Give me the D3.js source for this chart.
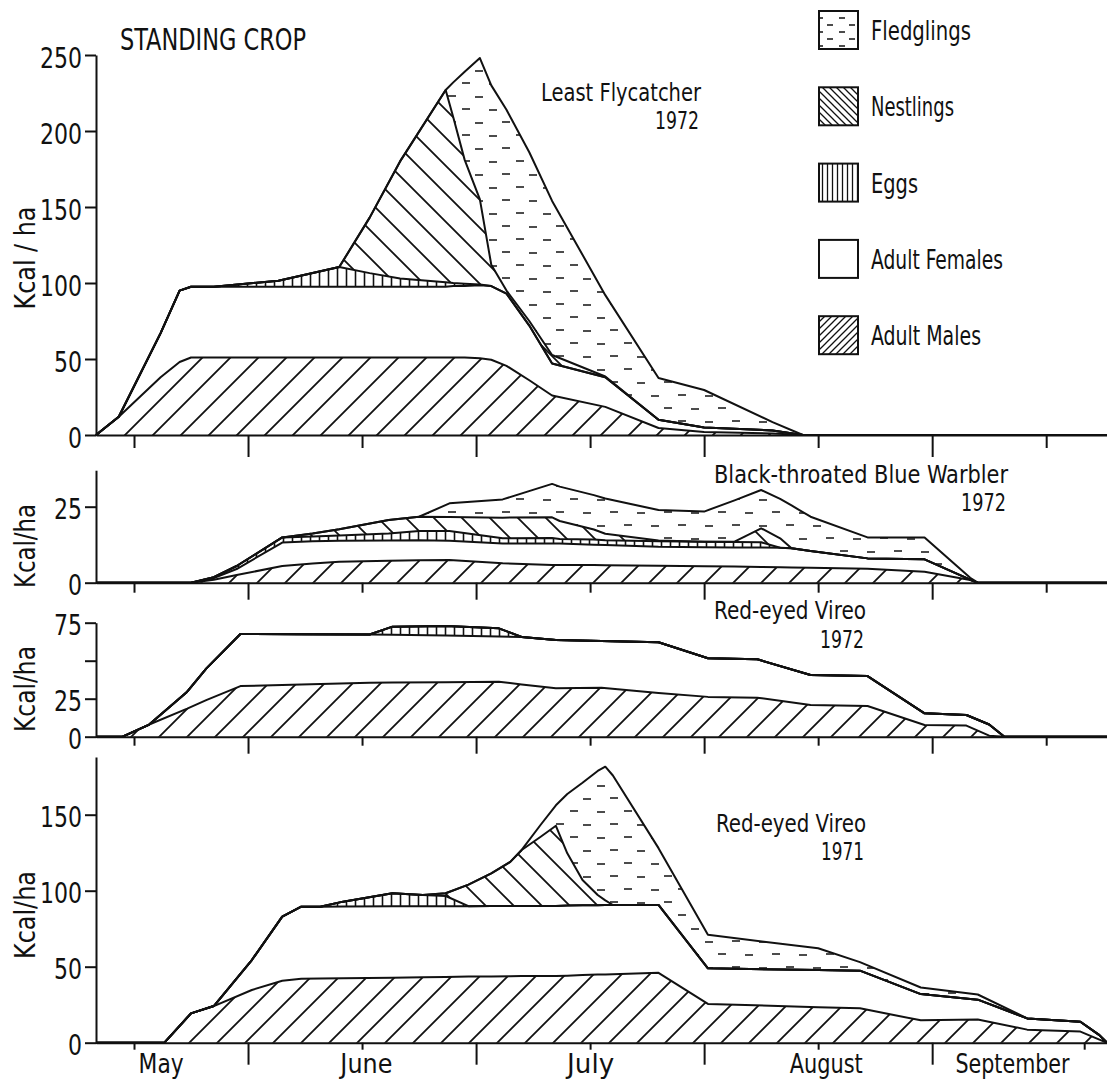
<!DOCTYPE html>
<html>
<head>
<meta charset="utf-8">
<script src="https://cdn.jsdelivr.net/npm/d3@7"></script>
<style>
  body { margin: 0; background: #fff; }
  svg { display: block; font-family: "Liberation Sans Narrow", "DejaVu Sans Condensed", "Arial Narrow", sans-serif; }
</style>
</head>
<body>
<svg id="chart" width="1107" height="1081"></svg>
<script>
// Days are counted from May 1 on a schematic calendar of 30-day months
const layerKeys = ["males", "females", "eggs", "nestlings", "fledglings"];
const legendKeys = ["fledglings", "nestlings", "eggs", "females", "males"];
const legendLabels = ["Fledglings", "Nestlings", "Eggs", "Adult Females", "Adult Males"];
const monthNames = ["May", "June", "July", "August", "September"];
const monthLabelDays = [18.5, 45.5, 75, 106, 130.5];
const monthStartDays = [30, 60, 90, 120];
const midMonthDays = [15, 45, 75, 105, 135];
const midMonthDays71 = [15, 45, 75, 105, 140];

// Least Flycatcher 1972
const lfDays       = [10, 13, 18.5, 21, 22.5, 25.5, 34, 42, 46, 50, 56, 57, 58.5, 60.5, 62, 64, 67, 70, 77, 84, 90, 99, 103, 143];
const lfMales      = [0, 12, 38, 48, 51, 51, 51, 51, 51, 51, 51, 51, 51, 50.5, 49.5, 45.5, 36, 26, 18.5, 4.6, 2, 1, 0, 0];
const lfFemales    = [0, 0, 29, 47, 46.5, 46.5, 46.5, 46.5, 46.5, 46.5, 46.5, 47, 47, 48, 48.5, 47.5, 36, 21, 19.5, 5.4, 3, 2, 0, 0];
const lfEggs       = [0, 0, 0, 0, 0, 0, 4, 13, 9, 5.5, 3, 2, 1.5, 0.5, 0, 0, 0, 0, 0, 0, 0, 0, 0, 0];
const lfNestlings  = [0, 0, 0, 0, 0, 0, 0, 0, 36.5, 77, 126.5, 109, 81.5, 56, 14, 2, 3, 5.6, 0.5, 0, 0, 0, 0, 0];
const lfFledglings = [0, 0, 0, 0, 0, 0, 0, 0, 0, 0, 0, 23, 58, 93, 118, 119, 111, 101.4, 53.5, 27.5, 24.6, 5.5, 0, 0];
const lfTicks = [0, 50, 100, 150, 200, 250];

// Black-throated Blue Warbler 1972
const bwDays       = [10, 22.5, 25.5, 28.5, 34.5, 38.5, 42, 48.5, 52.5, 56.5, 63.5, 70, 71, 75.5, 77, 84, 90, 94, 97.5, 100, 101.5, 104, 111.5, 119, 125, 126, 143];
const bwMales      = [0, 0, 1, 2.5, 5.5, 6.3, 6.9, 7.2, 7.4, 7.5, 6.4, 5.8, 5.8, 5.8, 5.7, 5.6, 5.4, 5.3, 5.2, 5.1, 5.0, 4.9, 4.6, 3.6, 0.9, 0, 0];
const bwFemales    = [0, 0, 0.5, 2, 7.7, 7.3, 6.9, 6.7, 6.6, 6.3, 6.5, 7.1, 7.1, 6.7, 6.7, 6.2, 6.3, 6.3, 6.4, 6.4, 6.3, 5.5, 3.4, 4.1, 0.1, 0, 0];
const bwEggs       = [0, 0, 0.3, 1, 1.7, 1.6, 1.7, 2.3, 3.0, 3.2, 1.7, 1.8, 1.5, 1.7, 1.6, 1.8, 1.8, 1.8, 1.7, 0, 0, 0, 0, 0, 0, 0, 0];
const bwNestlings  = [0, 0, 0, 0, 0, 1.0, 2.1, 4.4, 4.7, 4.6, 6.8, 6.8, 5.9, 3.3, 2.1, 0.3, 0, 0.1, 4.6, 3.1, 0, 0, 0, 0, 0, 0, 0];
const bwFledglings = [0, 0, 0, 0, 0, 0, 0, 0, 0, 4.5, 6.0, 11.0, 11.3, 11.3, 11.6, 10.0, 9.9, 13.6, 12.6, 13.0, 14.1, 11.3, 6.9, 7.2, 0.6, 0, 0];
const bwTicks = [0, 25];

// Red-eyed Vireo 1972
const rv2Days       = [10, 13.5, 17, 22, 24.5, 29, 37, 46, 49, 56, 63, 66, 70.5, 76.5, 84, 90.5, 97, 104, 111.5, 119, 124.5, 127.5, 129.5, 143];
const rv2Males      = [0, 0, 8, 18.5, 24.1, 33.3, 34.4, 35.5, 35.7, 35.9, 36.2, 34.3, 31.8, 32.2, 28.7, 26.2, 25.7, 20.9, 20.2, 7.7, 7.3, 0.7, 0, 0];
const rv2Females    = [0, 0, 0, 11.1, 20.7, 34.3, 33, 31.7, 31.3, 30.6, 29.7, 31.3, 31.8, 30.7, 33.4, 25.4, 25.2, 19.7, 19.7, 7.7, 7.0, 7.3, 0, 0];
const rv2Eggs       = [0, 0, 0, 0, 0, 0, 0, 0, 5.4, 6.3, 5.4, 0, 0, 0, 0, 0, 0, 0, 0, 0, 0, 0, 0, 0];
const rv2Nestlings  = rv2Days.map(() => 0);
const rv2Fledglings = rv2Days.map(() => 0);
const rv2Ticks = [0, 25, 50, 75];
const rv2Labelled = [0, 25, 75];

// Red-eyed Vireo 1971
const rv1Days       = [10, 19, 22.5, 25.5, 30.5, 34.5, 37, 39.5, 42.5, 49, 53, 56, 59, 62, 64.5, 66, 68.5, 70.5, 72, 74, 76, 77, 78, 84, 90.5, 105, 110.5, 118.5, 126, 132.5, 139.5, 142, 143];
const rv1Males      = [0, 0, 19.3, 24.1, 34.7, 40.8, 42.1, 42.3, 42.4, 42.8, 43.1, 43.3, 43.5, 43.6, 43.7, 43.8, 43.9, 43.9, 44.1, 44.5, 44.8, 44.9, 45.1, 46, 25.5, 23.4, 22.6, 14.7, 15.3, 8.6, 7.3, 2, 0];
const rv1Females    = [0, 0, 0, 0, 19.7, 42.1, 47.4, 47.2, 47.2, 46.9, 46.6, 46.5, 46.3, 46.3, 46.2, 46.2, 46.1, 46.1, 46.1, 45.9, 45.7, 45.7, 45.5, 44.6, 23.4, 24.4, 24.8, 17.3, 13, 7.4, 6.5, 3, 0];
const rv1Eggs       = [0, 0, 0, 0, 0, 0, 0, 0, 3.2, 8.6, 7.5, 6.7, 0, 0, 0, 0, 0, 0, 0, 0, 0, 0, 0, 0, 0, 0, 0, 0, 0, 0, 0, 0, 0];
const rv1Nestlings  = [0, 0, 0, 0, 0, 0, 0, 0, 0, 0, 0, 1.8, 14.2, 21.5, 29.1, 36.8, 45.5, 52.7, 34.4, 16.6, 6.7, 3.0, 0, 0, 0, 0, 0, 0, 0, 0, 0, 0, 0];
const rv1Fledglings = [0, 0, 0, 0, 0, 0, 0, 0, 0, 0, 0, 0, 0, 0, 0, 0, 7.9, 13.5, 39, 64, 81.6, 88, 85.2, 37.4, 22.1, 14.3, 5.6, 4.3, 3.4, 0, 0, 0, 0];
const rv1Ticks = [0, 50, 100, 150];

const panels = [
  { title: ["Least Flycatcher", "1972"], days: lfDays, max: 250, ticks: lfTicks, labelled: lfTicks, mid: midMonthDays, yLabel: "Kcal / ha",
    series: { males: lfMales, females: lfFemales, eggs: lfEggs, nestlings: lfNestlings, fledglings: lfFledglings } },
  { title: ["Black-throated Blue Warbler", "1972"], days: bwDays, max: 37, ticks: bwTicks, labelled: bwTicks, mid: midMonthDays, yLabel: "Kcal/ha",
    series: { males: bwMales, females: bwFemales, eggs: bwEggs, nestlings: bwNestlings, fledglings: bwFledglings } },
  { title: ["Red-eyed Vireo", "1972"], days: rv2Days, max: 75, ticks: rv2Ticks, labelled: rv2Labelled, mid: midMonthDays, yLabel: "Kcal/ha",
    series: { males: rv2Males, females: rv2Females, eggs: rv2Eggs, nestlings: rv2Nestlings, fledglings: rv2Fledglings } },
  { title: ["Red-eyed Vireo", "1971"], days: rv1Days, max: 188, ticks: rv1Ticks, labelled: rv1Ticks, mid: midMonthDays71, yLabel: "Kcal/ha",
    series: { males: rv1Males, females: rv1Females, eggs: rv1Eggs, nestlings: rv1Nestlings, fledglings: rv1Fledglings } }
];

// page layout for each panel
const layout = [
  { base: 435,    ppu: 1.52, titleX: 701,  titleY: 101, titleGap: 28, titleW: [160, 44], labelY: 258, labelW: 103, longTick: 22, shortTick: 13 },
  { base: 582.7,  ppu: 3.04, titleX: 1008, titleY: 483, titleGap: 28, titleW: [294, 45], labelY: 546, labelW: 84,  longTick: 17, shortTick: 10 },
  { base: 736.7,  ppu: 1.52, titleX: 866,  titleY: 619, titleGap: 28.5, titleW: [152, 44], labelY: 689, labelW: 86,  longTick: 17, shortTick: 9 },
  { base: 1042.7, ppu: 1.52, titleX: 866,  titleY: 832, titleGap: 28, titleW: [150, 43], labelY: 915, labelW: 88,  longTick: 22, shortTick: 7 }
];
const legendW = [100, 83, 47, 132, 110];
const monthW = [45, 52, 47, 73, 114];

const ink = "#111";
const svg = d3.select("#chart");
const defs = svg.append("defs");

function fit(sel, w) {
  return sel.attr("textLength", w).attr("lengthAdjust", "spacingAndGlyphs");
}

function pattern(id, w, h, d, sw) {
  const p = defs.append("pattern").attr("id", id)
    .attr("patternUnits", "userSpaceOnUse").attr("width", w).attr("height", h);
  p.append("rect").attr("width", w).attr("height", h).attr("fill", "#fff");
  p.append("path").attr("d", d).attr("stroke", ink).attr("stroke-width", sw)
    .attr("fill", "none").attr("stroke-linecap", "butt");
}

// chart fills
pattern("pat-males", 28, 28, "M0,28L28,0M-7,7L7,-7M21,35L35,21", 1.8);
pattern("pat-nestlings", 28, 28, "M0,0L28,28M-7,21L7,35M21,-7L35,7", 1.8);
pattern("pat-eggs", 9, 10, "M4.5,0V10", 1.6);
pattern("pat-fledglings", 54, 26, "M3,6H11M30,5H38M16,18H24M43,19H51", 1.7);
pattern("pat-females", 10, 10, "", 0);
// legend fills (denser)
pattern("leg-males", 7, 7, "M0,7L7,0M-2,2L2,-2M5,9L9,5", 1.3);
pattern("leg-nestlings", 7, 7, "M0,0L7,7M-2,5L2,9M5,-2L9,2", 1.3);
pattern("leg-eggs", 5, 10, "M2.5,0V10", 1.3);
pattern("leg-fledglings", 22, 14, "M3,4H9M13,11H19", 1.3);
pattern("leg-females", 10, 10, "", 0);

const x = d3.scaleLinear().domain([10, 143]).range([96, 1107]);

panels.forEach((P, i) => {
  const L = layout[i];
  const y = d3.scaleLinear().domain([0, P.max]).range([L.base, L.base - P.max * L.ppu]);
  const rows = P.days.map((d, j) => {
    const r = { day: d };
    layerKeys.forEach(k => { r[k] = P.series[k][j]; });
    return r;
  });
  const stacked = d3.stack().keys(layerKeys)(rows);

  const area = d3.area()
    .x(d => x(d.data.day))
    .y0(d => y(d[0]))
    .y1(d => y(d[1]));
  const line = d3.line()
    .x(d => x(d.data.day))
    .y(d => y(d[1]));

  const g = svg.append("g");

  g.selectAll(".layer")
    .data(stacked)
    .join("path")
    .attr("class", "layer")
    .attr("d", area)
    .attr("fill", s => `url(#pat-${s.key})`);

  g.selectAll(".edge")
    .data(stacked)
    .join("path")
    .attr("class", "edge")
    .attr("d", line)
    .attr("fill", "none")
    .attr("stroke", ink)
    .attr("stroke-width", 2)
    .attr("stroke-linejoin", "round");

  // x axis: long ticks at month boundaries, short ticks mid-month
  const xa = g.append("g")
    .attr("transform", `translate(0,${L.base})`)
    .call(d3.axisBottom(x).tickValues(monthStartDays).tickSize(L.longTick).tickSizeOuter(0).tickFormat(""));
  const xb = g.append("g")
    .attr("transform", `translate(0,${L.base})`)
    .call(d3.axisBottom(x).tickValues(P.mid).tickSize(L.shortTick).tickSizeOuter(0).tickFormat(""));
  xb.select(".domain").remove();

  // y axis
  const ya = g.append("g")
    .attr("transform", `translate(96,0)`)
    .call(d3.axisLeft(y).tickValues(P.ticks).tickSize(11).tickPadding(3).tickSizeOuter(0)
      .tickFormat(d => P.labelled.includes(d) ? d : ""));
  ya.attr("font-family", null).attr("font-size", 29);
  ya.selectAll("text")
    .attr("dy", "0.42em").attr("fill", ink)
    .each(function (d) {
      if (P.labelled.includes(d)) fit(d3.select(this), String(d).length * 14);
    });

  [xa, xb, ya].forEach(a => {
    a.selectAll("path, line").attr("stroke", ink).attr("stroke-width", 2);
  });

  fit(g.append("text")
    .attr("transform", `translate(35,${L.labelY}) rotate(-90)`)
    .attr("text-anchor", "middle")
    .attr("font-size", 29)
    .attr("fill", ink)
    .text(P.yLabel), L.labelW);

  // two-line species title
  const t = g.append("text")
    .attr("text-anchor", "end").attr("font-size", 24).attr("fill", ink);
  fit(t.append("tspan").attr("x", L.titleX).attr("y", L.titleY).text(P.title[0]), L.titleW[0]);
  fit(t.append("tspan").attr("x", L.titleX - 2).attr("y", L.titleY + L.titleGap).text(P.title[1]), L.titleW[1]);

  if (i === panels.length - 1) {
    const ml = g.append("g")
      .attr("transform", `translate(0,${L.base})`)
      .call(d3.axisBottom(x).tickValues(monthLabelDays).tickSize(0).tickPadding(12)
        .tickFormat(d => monthNames[monthLabelDays.indexOf(d)]));
    ml.select(".domain").remove();
    ml.attr("font-family", null).attr("font-size", 26);
    ml.selectAll("text").attr("fill", ink)
      .each(function (d) { fit(d3.select(this), monthW[monthLabelDays.indexOf(d)]); });
  }
});

fit(svg.append("text")
  .attr("x", 120).attr("y", 50)
  .attr("font-size", 30).attr("fill", ink)
  .text("STANDING CROP"), 186);

// legend
const legend = svg.append("g");
legendKeys.forEach((k, i) => {
  const top = 11 + i * 76.3;
  legend.append("rect")
    .attr("x", 819).attr("y", top).attr("width", 39).attr("height", 38)
    .attr("fill", `url(#leg-${k})`).attr("stroke", ink).attr("stroke-width", 2);
  fit(legend.append("text")
    .attr("x", 871).attr("y", top + 29)
    .attr("font-size", 26).attr("fill", ink)
    .text(legendLabels[i]), legendW[i]);
});
</script>
</body>
</html>
